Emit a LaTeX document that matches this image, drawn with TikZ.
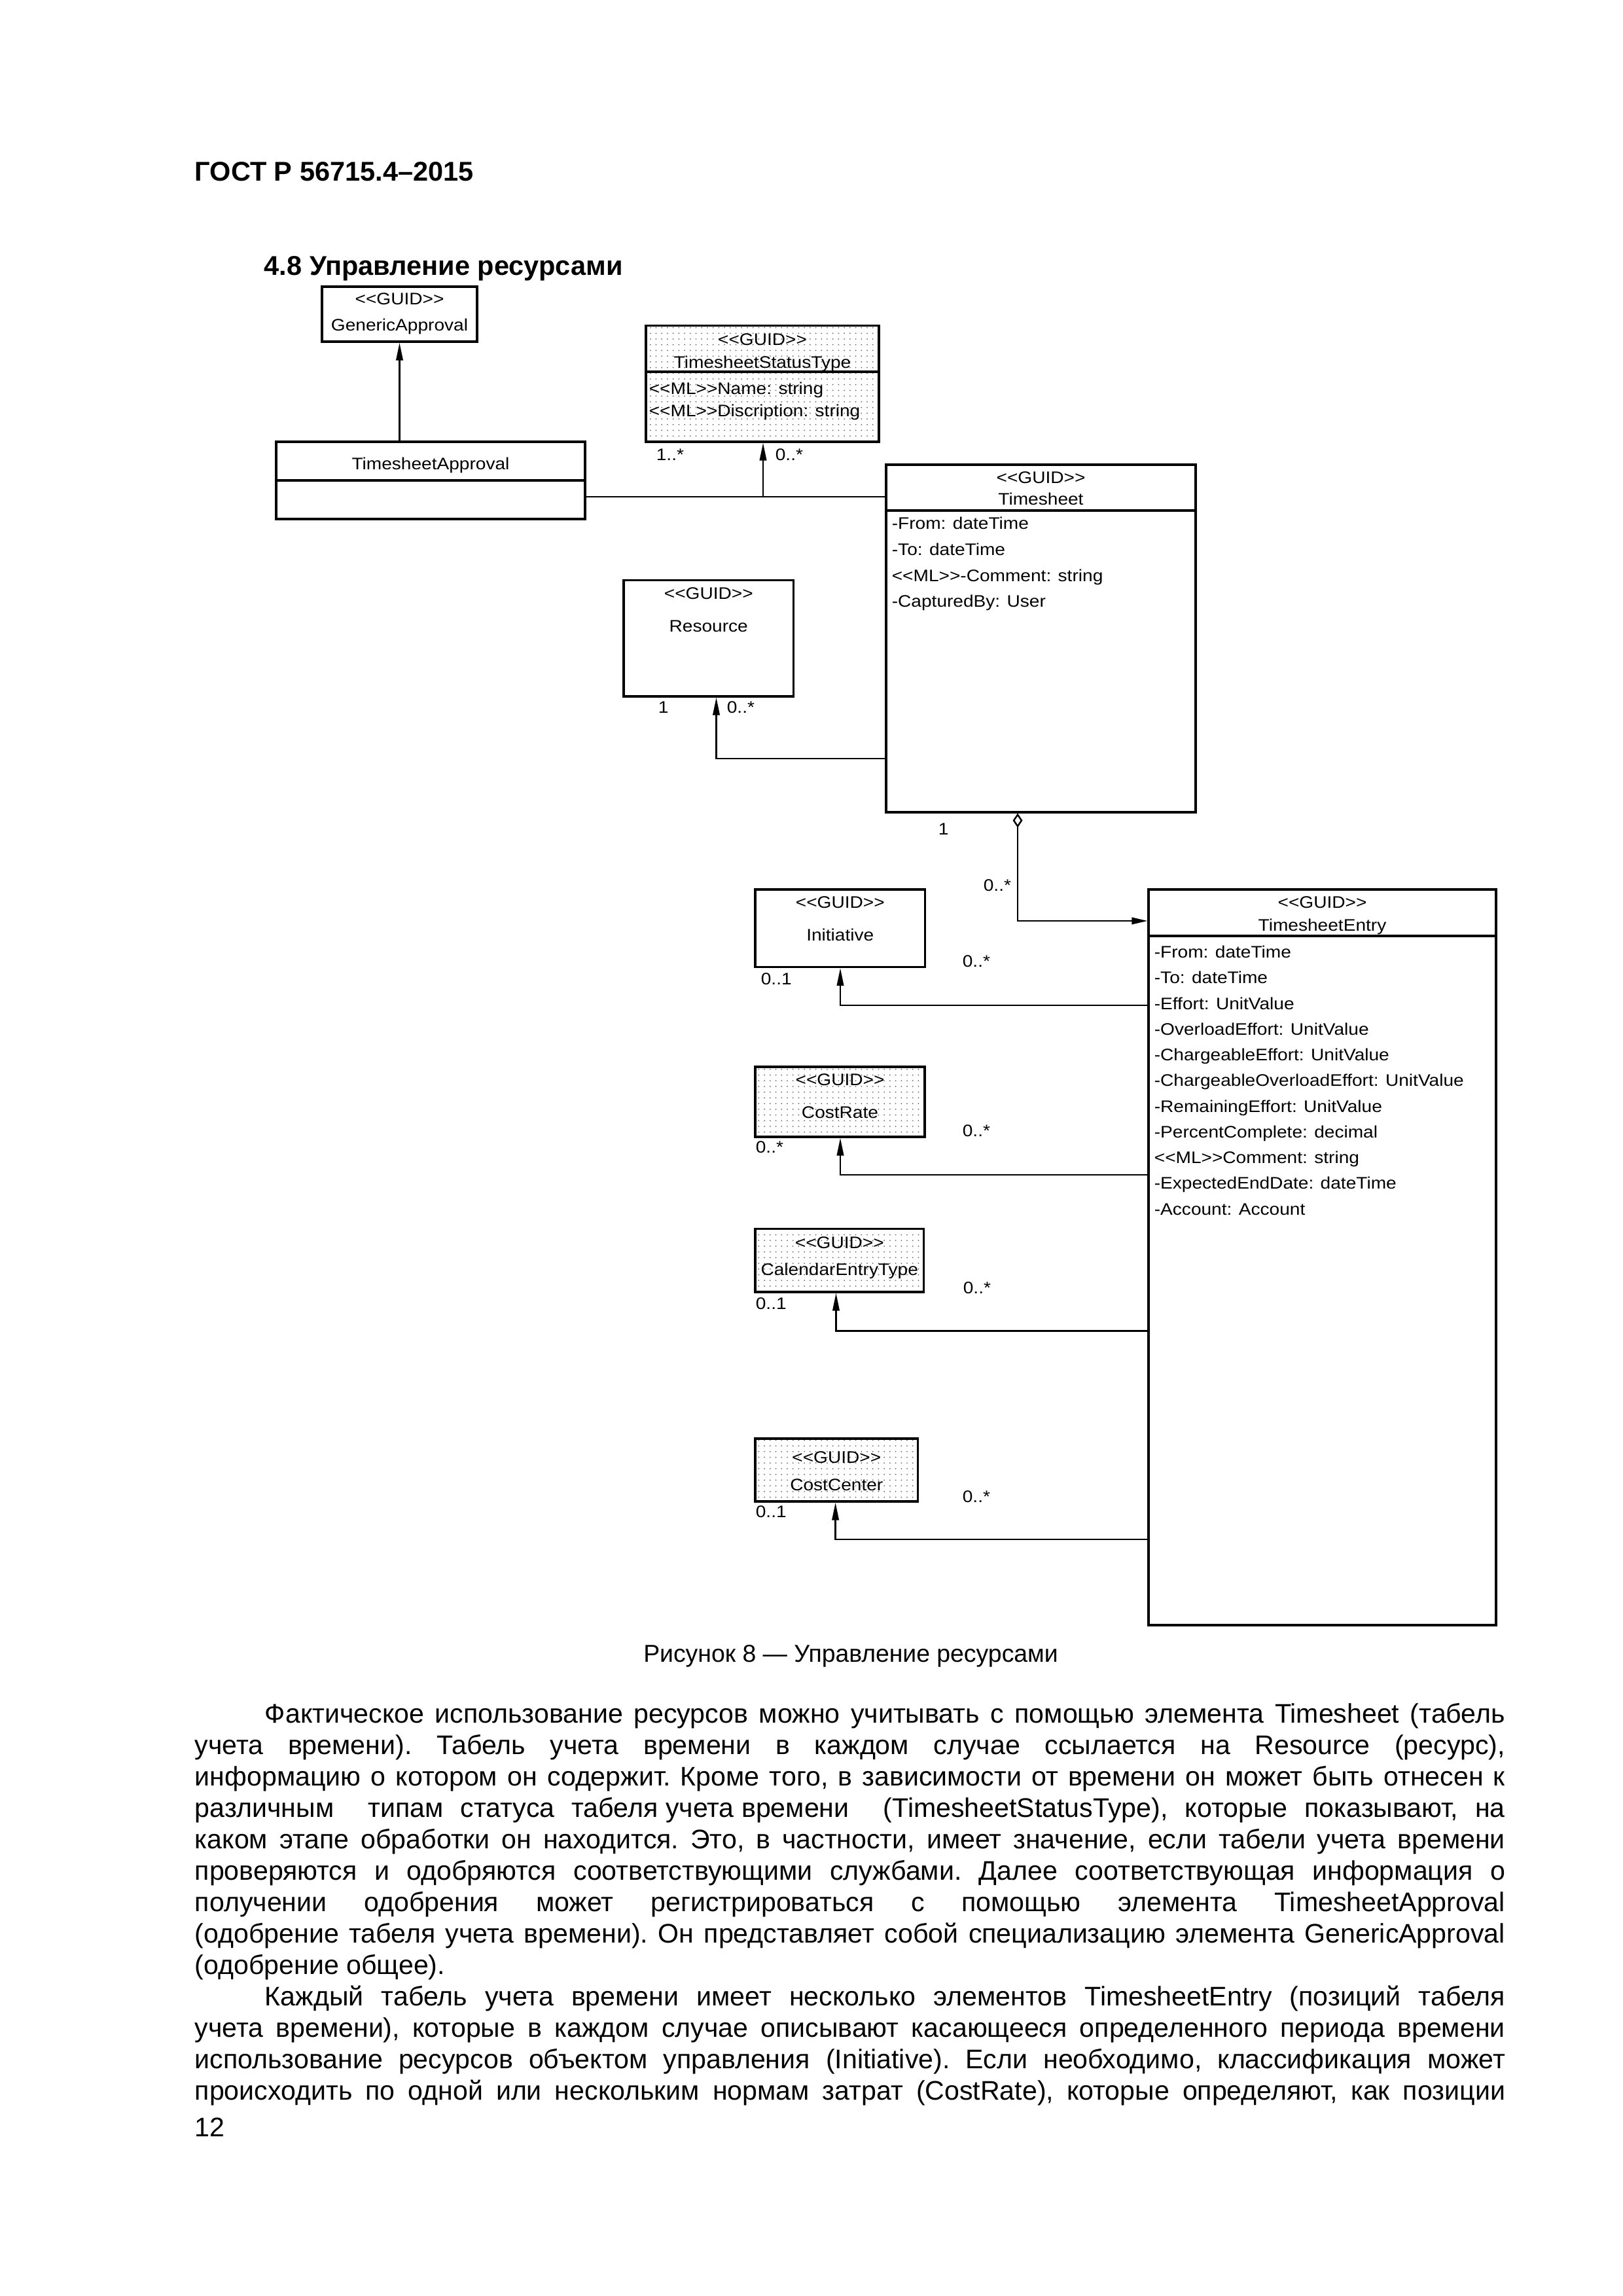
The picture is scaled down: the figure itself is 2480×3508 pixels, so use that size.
\documentclass[tikz,border=0pt]{standalone}
\usepackage{fontspec}
\setmainfont{Liberation Sans}
\newfontfamily\diagfont[FakeStretch=1.1,Ligatures=TeXOff]{Liberation Sans}
\usetikzlibrary{arrows.meta,patterns.meta,fit}
\begin{document}
\begin{tikzpicture}[x=0.0846667mm,y=-0.0846667mm,
  box/.style={draw, line width=0.75pt, inner sep=0pt},
  dotbox/.style={box, pattern={Dots[distance=2.1pt,radius=0.24pt]}, pattern color=black!60},
  divider/.style={line width=0.75pt},
  dt/.style={font=\diagfont\fontsize{6.15}{7}\selectfont, inner sep=0pt, text height=4.4pt, text depth=0pt},
  attr/.style={dt, anchor=west},
  conn/.style={line width=0.6pt},
  arr/.style={conn, -{Triangle[length=6.5pt,width=2.5pt]}},
  agg/.style={conn, {Diamond[open,length=5.3pt,width=3.6pt]}-{Triangle[length=5.8pt,width=2.5pt]}},
  pg/.style={inner sep=0pt, anchor=base west, font=\frenchspacing\fontsize{9.9}{11.56}\selectfont},
  hd/.style={inner sep=0pt, anchor=base west, font=\bfseries\fontsize{10}{12}\selectfont}
]
\fill[white] (0,0) rectangle (2480,3508);
\useasboundingbox (0,0) rectangle (2480,3508);

% page header and heading
\node[hd] (hdr) at (297,276) {ГОСТ Р 56715.4–2015};
\node[hd] (sec) at (403,420) {4.8 Управление ресурсами};

% class boxes
\node[box, fit={(492,438) (729,522)}] (ga) {};
\node[box, fit={(422,675) (894,793)}] (ta) {};
\node[dotbox, fit={(987,497.5) (1343,675)}] (tst) {};
\node[box, fit={(1354,710) (1827,1241)}] (ts) {};
\node[box, fit={(953,886.5) (1212.5,1064)}] (res) {};
\node[box, fit={(1755,1359) (2286,2483)}] (te) {};
\node[box, fit={(1154,1359) (1413.5,1477.5)}] (ini) {};
\node[dotbox, fit={(1154,1630) (1413,1737)}] (cr) {};
\node[dotbox, fit={(1154,1877.5) (1411.5,1974)}] (cet) {};
\node[dotbox, fit={(1154,2198) (1402.6,2294)}] (cc) {};

% compartment dividers
\draw[divider] (ta.west |- 0,734) -- (ta.east |- 0,734);
\draw[divider] (tst.west |- 0,568) -- (tst.east |- 0,568);
\draw[divider] (ts.west |- 0,780) -- (ts.east |- 0,780);
\draw[divider] (te.west |- 0,1430) -- (te.east |- 0,1430);

% GenericApproval
\node[dt] (ga-s) at (ga.center |- 0,456) {<<GUID>>};
\node[dt] (ga-n) at (ga.center |- 0,496) {GenericApproval};
% TimesheetApproval
\node[dt] (ta-n) at (ta.center |- 0,708) {TimesheetApproval};
% TimesheetStatusType
\node[dt] (tst-s) at (tst.center |- 0,518) {<<GUID>>};
\node[dt] (tst-n) at (tst.center |- 0,553) {TimesheetStatusType};
\node[attr] (tst-a1) at (991,593) {<<ML>>Name: string};
\node[attr] (tst-a2) at (991,627) {<<ML>>Discription: string};
% Timesheet
\node[dt] (ts-s) at (ts.center |- 0,729) {<<GUID>>};
\node[dt] (ts-n) at (ts.center |- 0,762) {Timesheet};
\node[attr] (ts-a1) at (1362,799) {-From: dateTime};
\node[attr] (ts-a2) at (1362,839) {-To: dateTime};
\node[attr] (ts-a3) at (1362,879) {<<ML>>-Comment: string};
\node[attr] (ts-a4) at (1362,918) {-CapturedBy: User};
% Resource
\node[dt] (res-s) at (res.center |- 0,906) {<<GUID>>};
\node[dt] (res-n) at (res.center |- 0,956) {Resource};
% TimesheetEntry
\node[dt] (te-s) at (te.center |- 0,1378) {<<GUID>>};
\node[dt] (te-n) at (te.center |- 0,1413) {TimesheetEntry};
\node[attr] (te-a1) at (1763,1454) {-From: dateTime};
\node[attr] (te-a2) at (1763,1493) {-To: dateTime};
\node[attr] (te-a3) at (1763,1533) {-Effort: UnitValue};
\node[attr] (te-a4) at (1763,1572) {-OverloadEffort: UnitValue};
\node[attr] (te-a5) at (1763,1611) {-ChargeableEffort: UnitValue};
\node[attr] (te-a6) at (1763,1650) {-ChargeableOverloadEffort: UnitValue};
\node[attr] (te-a7) at (1763,1690) {-RemainingEffort: UnitValue};
\node[attr] (te-a8) at (1763,1729) {-PercentComplete: decimal};
\node[attr] (te-a9) at (1763,1768) {<<ML>>Comment: string};
\node[attr] (te-a10) at (1763,1807) {-ExpectedEndDate: dateTime};
\node[attr] (te-a11) at (1763,1847) {-Account: Account};
% Initiative
\node[dt] (ini-s) at (ini.center |- 0,1378) {<<GUID>>};
\node[dt] (ini-n) at (ini.center |- 0,1428) {Initiative};
% CostRate
\node[dt] (cr-s) at (cr.center |- 0,1649) {<<GUID>>};
\node[dt] (cr-n) at (cr.center |- 0,1699) {CostRate};
% CalendarEntryType
\node[dt] (cet-s) at (cet.center |- 0,1898) {<<GUID>>};
\node[dt] (cet-n) at (cet.center |- 0,1939) {CalendarEntryType};
% CostCenter
\node[dt] (cc-s) at (cc.center |- 0,2226) {<<GUID>>};
\node[dt] (cc-n) at (cc.center |- 0,2268) {CostCenter};

% connectors
\draw[arr] (ta.north -| ga.south) -- (ga.south);
\coordinate (j1) at (1166,759);
\draw[conn] (ta.east |- j1) -- (ts.west |- j1);
\draw[arr] (j1) -- (tst.south -| j1);
\coordinate (j2) at (1094.5,1159);
\draw[arr] (ts.west |- j2) -| (res.south -| j2);
\coordinate (j3) at (1555,1407);
\draw[agg] (ts.south -| j3) |- (te.west |- j3);
\coordinate (j4) at (1284,1536);
\draw[arr] (te.west |- j4) -| (ini.south -| j4);
\coordinate (j5) at (1284,1795);
\draw[arr] (te.west |- j5) -| (cr.south -| j5);
\coordinate (j6) at (1277.5,2033.5);
\draw[arr] (te.west |- j6) -| (cet.south -| j6);
\coordinate (j7) at (1276.6,2352);
\draw[arr] (te.west |- j7) -| (cc.south -| j7);

% multiplicities
\node[attr] (m1) at (1002,694) {1..*};
\node[attr] (m2) at (1184,694) {0..*};
\node[attr] (m3) at (1005,1080) {1};
\node[attr] (m4) at (1110,1080) {0..*};
\node[attr] (m5) at (1433,1266) {1};
\node[attr] (m6) at (1502,1352) {0..*};
\node[attr] (m7) at (1162,1495) {0..1};
\node[attr] (m8) at (1470,1468) {0..*};
\node[attr] (m9) at (1154,1752) {0..*};
\node[attr] (m10) at (1470,1727) {0..*};
\node[attr] (m11) at (1154,1991) {0..1};
\node[attr] (m12) at (1471,1967) {0..*};
\node[attr] (m13) at (1154,2309) {0..1};
\node[attr] (m14) at (1470,2286) {0..*};

% caption
\node[inner sep=0pt, anchor=base, font=\fontsize{9}{11}\selectfont] (cap) at (1300,2539) {Рисунок 8 — Управление ресурсами};

% body text
\node[pg] (b1) at (297,2632) {\makebox[482.3pt][s]{\hspace*{25.8pt}Фактическое использование ресурсов можно учитывать с помощью элемента Timesheet (табель}};
\node[pg] (b2) at (297,2680) {\makebox[482.3pt][s]{учета времени). Табель учета времени в каждом случае ссылается на Resource (ресурс),}};
\node[pg] (b3) at (297,2728) {\makebox[482.3pt][s]{информацию о котором он содержит. Кроме того, в зависимости от времени он может быть отнесен к}};
\node[pg] (b4) at (297,2776) {\makebox[482.3pt][s]{различным\ \ типам статуса табеля\kern.28em учета\kern.28em времени\ \ (TimesheetStatusType), которые показывают, на}};
\node[pg] (b5) at (297,2824) {\makebox[482.3pt][s]{каком этапе обработки он находится. Это, в частности, имеет значение, если табели учета времени}};
\node[pg] (b6) at (297,2872) {\makebox[482.3pt][s]{проверяются и одобряются соответствующими службами. Далее соответствующая информация о}};
\node[pg] (b7) at (297,2920) {\makebox[482.3pt][s]{получении одобрения может регистрироваться с помощью элемента TimesheetApproval}};
\node[pg] (b8) at (297,2968) {\makebox[482.3pt][s]{(одобрение табеля учета времени). Он представляет собой специализацию элемента GenericApproval}};
\node[pg] (b9) at (297,3016) {(одобрение общее).};
\node[pg] (b10) at (297,3064) {\makebox[482.3pt][s]{\hspace*{25.8pt}Каждый табель учета времени имеет несколько элементов TimesheetEntry (позиций табеля}};
\node[pg] (b11) at (297,3112) {\makebox[482.3pt][s]{учета времени), которые в каждом случае описывают касающееся определенного периода времени}};
\node[pg] (b12) at (297,3160) {\makebox[482.3pt][s]{использование ресурсов объектом управления (Initiative). Если необходимо, классификация может}};
\node[pg] (b13) at (297,3208) {\makebox[482.3pt][s]{происходить по одной или нескольким нормам затрат (CostRate), которые определяют, как позиции}};
\node[pg] (pnum) at (297,3264) {12};
\end{tikzpicture}
\end{document}
